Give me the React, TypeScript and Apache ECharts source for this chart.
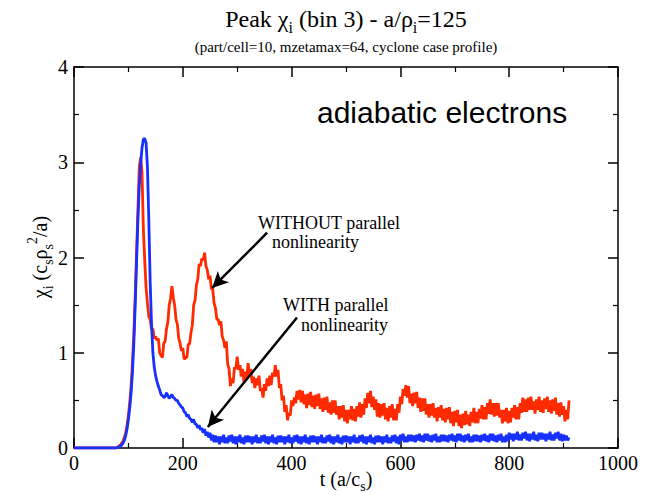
import React, { useEffect, useRef } from "react";
import * as echarts from "echarts";

// sampling step of the time axis (a/c_s)
const T_STEP = 2.5;

// chi_i without parallel nonlinearity (red), t = 0, 2.5, 5, ... 910 (8 samples per row = 20 a/c_s)
const redValues = [
  0, 0, 0, 0, 0, 0, 0, 0,
  0, 0, 0, 0, 0, 0, 0, 0,
  0, 0, 0, 0, 0, 0, 0, 0,
  0, 0, 0, 0, 0, 0, 0, 0,
  0.01, 0.02, 0.03, 0.05, 0.07, 0.11, 0.16, 0.24, // 80
  0.34, 0.48, 0.65, 0.9, 1.2, 1.6, 2.05, 2.5, // 100
  2.95, 3.05, 2.9, 2.3, 1.97, 1.68, 1.52, 1.38, // 120
  1.35, 1.25, 1.25, 1.15, 1.17, 1.13, 1.15, 1.0, // 140
  0.97, 0.95, 1.1, 1.12, 1.25, 1.32, 1.5, 1.57, // 160
  1.7, 1.58, 1.5, 1.35, 1.3, 1.15, 1.1, 1.02, // 180
  1.05, 0.93, 0.95, 0.95, 1.09, 1.09, 1.21, 1.29, // 200
  1.5, 1.55, 1.71, 1.77, 1.93, 1.91, 1.99, 1.97, // 220
  2.05, 1.91, 1.87, 1.77, 1.81, 1.67, 1.67, 1.52, // 240
  1.47, 1.35, 1.35, 1.29, 1.33, 1.17, 1.13, 1.05, // 260
  1.12, 0.88, 0.83, 0.65, 0.73, 0.68, 0.85, 0.83, // 280
  0.96, 0.82, 0.87, 0.75, 0.83, 0.69, 0.8, 0.73, // 300
  0.89, 0.76, 0.83, 0.68, 0.75, 0.63, 0.73, 0.66, // 320
  0.76, 0.6, 0.63, 0.53, 0.67, 0.6, 0.73, 0.65, // 340
  0.76, 0.66, 0.79, 0.75, 0.87, 0.75, 0.82, 0.63, // 360
  0.67, 0.5, 0.55, 0.38, 0.45, 0.29, 0.37, 0.34, // 380
  0.5, 0.44, 0.53, 0.47, 0.6, 0.51, 0.61, 0.48, // 400
  0.6, 0.46, 0.56, 0.42, 0.57, 0.45, 0.59, 0.43, // 420
  0.55, 0.41, 0.56, 0.44, 0.57, 0.41, 0.52, 0.38, // 440
  0.53, 0.4, 0.54, 0.37, 0.48, 0.35, 0.5, 0.37, // 460
  0.5, 0.35, 0.44, 0.3, 0.44, 0.32, 0.45, 0.28, // 480
  0.4, 0.26, 0.4, 0.3, 0.44, 0.29, 0.41, 0.28, // 500
  0.44, 0.33, 0.48, 0.32, 0.46, 0.35, 0.52, 0.42, // 520
  0.58, 0.47, 0.6, 0.43, 0.54, 0.4, 0.51, 0.33, // 540
  0.47, 0.32, 0.46, 0.34, 0.47, 0.3, 0.42, 0.28, // 560
  0.44, 0.32, 0.46, 0.29, 0.41, 0.29, 0.46, 0.37, // 580
  0.54, 0.46, 0.62, 0.55, 0.66, 0.53, 0.65, 0.47, // 600
  0.57, 0.44, 0.58, 0.47, 0.59, 0.42, 0.53, 0.38, // 620
  0.52, 0.39, 0.52, 0.35, 0.46, 0.32, 0.46, 0.34, // 640
  0.47, 0.32, 0.42, 0.28, 0.43, 0.32, 0.45, 0.29, // 660
  0.41, 0.27, 0.42, 0.3, 0.43, 0.26, 0.38, 0.23, // 680
  0.39, 0.27, 0.4, 0.23, 0.35, 0.21, 0.36, 0.24, // 700
  0.39, 0.25, 0.35, 0.23, 0.38, 0.27, 0.42, 0.26, // 720
  0.38, 0.26, 0.41, 0.31, 0.45, 0.3, 0.43, 0.3, // 740
  0.47, 0.36, 0.51, 0.35, 0.47, 0.33, 0.47, 0.34, // 760
  0.47, 0.32, 0.4, 0.26, 0.4, 0.28, 0.42, 0.26, // 780
  0.39, 0.27, 0.42, 0.32, 0.45, 0.3, 0.43, 0.3, // 800
  0.47, 0.37, 0.53, 0.38, 0.51, 0.38, 0.53, 0.4, // 820
  0.54, 0.4, 0.49, 0.36, 0.51, 0.4, 0.54, 0.38, // 840
  0.5, 0.37, 0.52, 0.41, 0.54, 0.38, 0.5, 0.36, // 860
  0.51, 0.39, 0.53, 0.35, 0.47, 0.33, 0.48, 0.35, // 880
  0.44, 0.28, 0.4, 0.3, 0.5, // 900
];

// chi_i with parallel nonlinearity (blue), t = 0, 2.5, 5, ... 910
const blueValues = [
  0, 0, 0, 0, 0, 0, 0, 0,
  0, 0, 0, 0, 0, 0, 0, 0,
  0, 0, 0, 0, 0, 0, 0, 0,
  0, 0, 0, 0, 0, 0, 0, 0,
  0.005, 0.01, 0.02, 0.03, 0.05, 0.08, 0.13, 0.2, // 80
  0.3, 0.42, 0.58, 0.8, 1.1, 1.5, 1.95, 2.4, // 100
  2.75, 2.98, 3.15, 3.24, 3.25, 3.2, 2.95, 2.4, // 120
  1.75, 1.3, 1.0, 0.85, 0.76, 0.7, 0.65, 0.61, // 140
  0.56, 0.55, 0.53, 0.54, 0.58, 0.55, 0.52, 0.54, // 160
  0.56, 0.53, 0.52, 0.5, 0.5, 0.47, 0.45, 0.43, // 180
  0.42, 0.38, 0.37, 0.33, 0.35, 0.31, 0.3, 0.27, // 200
  0.3, 0.25, 0.25, 0.21, 0.24, 0.19, 0.21, 0.16, // 220
  0.2, 0.13, 0.17, 0.11, 0.16, 0.08, 0.14, 0.06, // 240
  0.13, 0.06, 0.12, 0.04, 0.12, 0.06, 0.14, 0.05, // 260
  0.11, 0.05, 0.13, 0.07, 0.14, 0.05, 0.12, 0.04, // 280
  0.12, 0.06, 0.14, 0.05, 0.11, 0.04, 0.13, 0.06, // 300
  0.13, 0.06, 0.12, 0.04, 0.12, 0.06, 0.14, 0.05, // 320
  0.11, 0.05, 0.13, 0.07, 0.14, 0.05, 0.12, 0.04, // 340
  0.12, 0.06, 0.14, 0.05, 0.11, 0.04, 0.13, 0.06, // 360
  0.13, 0.06, 0.12, 0.04, 0.12, 0.06, 0.14, 0.05, // 380
  0.11, 0.05, 0.13, 0.07, 0.14, 0.05, 0.12, 0.04, // 400
  0.12, 0.06, 0.14, 0.05, 0.11, 0.04, 0.13, 0.06, // 420
  0.13, 0.06, 0.12, 0.04, 0.12, 0.06, 0.14, 0.05, // 440
  0.11, 0.05, 0.13, 0.07, 0.14, 0.05, 0.12, 0.04, // 460
  0.12, 0.06, 0.14, 0.05, 0.11, 0.04, 0.13, 0.06, // 480
  0.13, 0.06, 0.12, 0.04, 0.12, 0.06, 0.14, 0.05, // 500
  0.11, 0.05, 0.13, 0.07, 0.14, 0.05, 0.12, 0.04, // 520
  0.12, 0.06, 0.14, 0.05, 0.11, 0.04, 0.13, 0.06, // 540
  0.13, 0.06, 0.12, 0.04, 0.12, 0.06, 0.14, 0.05, // 560
  0.11, 0.05, 0.13, 0.07, 0.14, 0.05, 0.12, 0.04, // 580
  0.14, 0.08, 0.15, 0.06, 0.12, 0.06, 0.14, 0.07, // 600
  0.14, 0.07, 0.13, 0.06, 0.14, 0.08, 0.15, 0.07, // 620
  0.13, 0.06, 0.15, 0.08, 0.15, 0.07, 0.13, 0.06, // 640
  0.14, 0.08, 0.15, 0.06, 0.12, 0.06, 0.14, 0.07, // 660
  0.14, 0.07, 0.13, 0.06, 0.14, 0.08, 0.15, 0.07, // 680
  0.13, 0.06, 0.15, 0.08, 0.15, 0.07, 0.13, 0.06, // 700
  0.14, 0.08, 0.15, 0.06, 0.12, 0.06, 0.14, 0.07, // 720
  0.14, 0.07, 0.13, 0.06, 0.14, 0.08, 0.15, 0.07, // 740
  0.13, 0.06, 0.15, 0.08, 0.15, 0.07, 0.13, 0.06, // 760
  0.14, 0.08, 0.15, 0.06, 0.12, 0.06, 0.14, 0.07, // 780
  0.16, 0.09, 0.15, 0.07, 0.15, 0.09, 0.17, 0.08, // 800
  0.14, 0.08, 0.16, 0.1, 0.17, 0.08, 0.15, 0.07, // 820
  0.15, 0.09, 0.17, 0.08, 0.14, 0.07, 0.16, 0.09, // 840
  0.16, 0.09, 0.15, 0.07, 0.15, 0.09, 0.17, 0.08, // 860
  0.14, 0.08, 0.16, 0.1, 0.17, 0.08, 0.15, 0.07, // 880
  0.14, 0.08, 0.13, 0.08, 0.11, // 900
];

// arrow annotations in data coordinates: [start, end]
const arrowWithout = [[355, 2.26], [254, 1.68]];
const arrowWith = [[410, 1.37], [246, 0.22]];

const SERIF = "'Liberation Serif', 'Times New Roman', serif";
const SANS = "'Liberation Sans', Arial, sans-serif";

export default function App() {
  const ref = useRef<HTMLDivElement>(null);

  useEffect(() => {
    if (!ref.current) return;
    const chart = echarts.init(ref.current, null, { renderer: "svg" });

    const axisCommon = {
      type: "value",
      axisLine: { show: true, onZero: false, lineStyle: { color: "#000", width: 1.5 } },
      axisTick: { show: true, inside: true, length: 10, lineStyle: { color: "#000", width: 1.5 } },
      minorTick: { show: true, splitNumber: 2, length: 5, lineStyle: { color: "#000", width: 1.2 } },
      splitLine: { show: false },
      minorSplitLine: { show: false },
    };

    const tickLabel = {
      fontFamily: SERIF,
      fontSize: 20,
      color: "#000",
      formatter: (v: number) => String(v),
    };

    const option: any = {
      animation: false,
      backgroundColor: "#fff",
      grid: { left: 74, right: 34, top: 67, bottom: 48, containLabel: false },
      xAxis: [
        { ...axisCommon, position: "bottom", min: 0, max: 1000, interval: 200, axisLabel: { ...tickLabel, margin: 5 } },
        { ...axisCommon, position: "top", min: 0, max: 1000, interval: 200, axisLabel: { show: false } },
      ],
      yAxis: [
        { ...axisCommon, position: "left", min: 0, max: 4, interval: 1, axisLabel: { ...tickLabel, margin: 6 } },
        { ...axisCommon, position: "right", min: 0, max: 4, interval: 1, axisLabel: { show: false } },
      ],
      series: [
        {
          name: "WITHOUT parallel nonlinearity",
          type: "line",
          data: redValues.map((v, i) => [i * T_STEP, v]),
          showSymbol: false,
          symbol: "none",
          lineStyle: { color: "#ff2a00", width: 2.8 },
          z: 2,
          markLine: {
            silent: true,
            symbol: ["none", "arrow"],
            symbolSize: [12, 16],
            label: { show: false },
            lineStyle: { color: "#000", width: 2.5, type: "solid" },
            data: [
              [{ coord: arrowWithout[0] }, { coord: arrowWithout[1] }],
              [{ coord: arrowWith[0] }, { coord: arrowWith[1] }],
            ],
            z: 5,
          },
        },
        {
          name: "WITH parallel nonlinearity",
          type: "line",
          data: blueValues.map((v, i) => [i * T_STEP, v]),
          showSymbol: false,
          symbol: "none",
          lineStyle: { color: "#1530ff", width: 2.8 },
          z: 3,
        },
      ],
      graphic: [
        {
          type: "text",
          x: 346,
          y: 19,
          style: {
            text: "{m|Peak χ}{s|i}{m| (bin 3) - a/ρ}{s|i}{m|=125}",
            align: "center",
            verticalAlign: "middle",
            fill: "#000",
            fontFamily: SERIF,
            rich: {
              m: { fontFamily: SERIF, fontSize: 24, lineHeight: 32, verticalAlign: "middle", fill: "#000" },
              s: { fontFamily: SERIF, fontSize: 16, verticalAlign: "bottom", fill: "#000" },
            },
          },
        },
        {
          type: "text",
          x: 346,
          y: 47,
          style: {
            text: "(part/cell=10, mzetamax=64, cyclone case profile)",
            align: "center",
            verticalAlign: "middle",
            fontFamily: SERIF,
            fontSize: 15,
            fill: "#000",
          },
        },
        {
          type: "text",
          x: 317,
          y: 112,
          style: {
            text: "adiabatic electrons",
            align: "left",
            verticalAlign: "middle",
            fontFamily: SANS,
            fontSize: 30,
            fill: "#000",
          },
        },
        {
          type: "text",
          x: 258,
          y: 223,
          style: { text: "WITHOUT parallel", align: "left", verticalAlign: "middle", fontFamily: SERIF, fontSize: 18, fill: "#000" },
        },
        {
          type: "text",
          x: 272,
          y: 242,
          style: { text: "nonlinearity", align: "left", verticalAlign: "middle", fontFamily: SERIF, fontSize: 18, fill: "#000" },
        },
        {
          type: "text",
          x: 283,
          y: 305,
          style: { text: "WITH parallel", align: "left", verticalAlign: "middle", fontFamily: SERIF, fontSize: 18, fill: "#000" },
        },
        {
          type: "text",
          x: 301,
          y: 325,
          style: { text: "nonlinearity", align: "left", verticalAlign: "middle", fontFamily: SERIF, fontSize: 18, fill: "#000" },
        },
        {
          type: "text",
          x: 346,
          y: 479,
          style: {
            text: "{m|t (a/c}{s|s}{m|)}",
            align: "center",
            verticalAlign: "middle",
            fontFamily: SERIF,
            rich: {
              m: { fontFamily: SERIF, fontSize: 20, lineHeight: 28, verticalAlign: "middle", fill: "#000" },
              s: { fontFamily: SERIF, fontSize: 14, verticalAlign: "bottom", fill: "#000" },
            },
          },
        },
        {
          type: "text",
          x: 40,
          y: 257,
          rotation: Math.PI / 2,
          style: {
            text: "{m|χ}{s|i}{m| (c}{s|s}{m|ρ}{s|s}{p|2}{m|/a)}",
            align: "center",
            verticalAlign: "middle",
            fontFamily: SERIF,
            rich: {
              m: { fontFamily: SERIF, fontSize: 20, lineHeight: 30, verticalAlign: "middle", fill: "#000" },
              s: { fontFamily: SERIF, fontSize: 14, verticalAlign: "bottom", fill: "#000" },
              p: { fontFamily: SERIF, fontSize: 14, verticalAlign: "top", fill: "#000" },
            },
          },
        },
      ],
    };

    chart.setOption(option);
    return () => chart.dispose();
  }, []);

  return <div ref={ref} style={{ position: "fixed", left: 0, top: 0, width: 652, height: 496 }} />;
}
